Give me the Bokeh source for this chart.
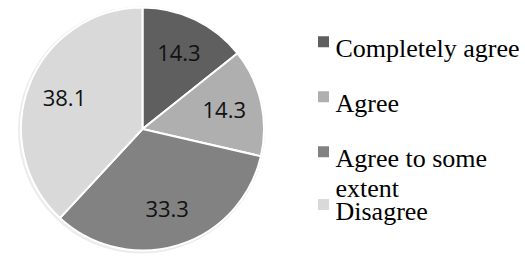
import math
from bokeh.plotting import figure
from bokeh.models import Range1d, ColumnDataSource
from bokeh.core.properties import value
from bokeh.embed import file_html
from bokeh.resources import INLINE

# ---- data ----
categories = ["Completely agree", "Agree", "Agree to some extent", "Disagree"]
values = [14.3, 14.3, 33.3, 38.1]
value_labels = ["14.3", "14.3", "33.3", "38.1"]
colors = ["#5f5f5f", "#afafaf", "#828282", "#d9d9d9"]
legend_lines = [["Completely agree"], ["Agree"], ["Agree to some", "extent"], ["Disagree"]]

# ---- layout (data units == pixels, y measured from bottom) ----
W, H = 525, 256
cx, cy, R = 142.0, H - 128.5, 121.5
label_r = 0.69 * R

total = sum(values)
starts, ends, lx, ly = [], [], [], []
acc = 0.0
for v in values:
    a0 = math.pi / 2 - 2 * math.pi * acc / total
    acc += v
    a1 = math.pi / 2 - 2 * math.pi * acc / total
    starts.append(a0)
    ends.append(a1)
    mid = (a0 + a1) / 2
    lx.append(cx + label_r * math.cos(mid))
    ly.append(cy + label_r * math.sin(mid))

p = figure(width=W, height=H, output_backend="svg", toolbar_location=None,
           x_range=Range1d(0, W), y_range=Range1d(0, H), min_border=0,
           outline_line_color=None)
p.xaxis.visible = False
p.yaxis.visible = False
p.grid.visible = False
p.background_fill_color = "white"
p.border_fill_color = "white"

# subtle shadow
p.circle(x=[cx - 1], y=[cy - 1], radius=R + 2, fill_color="#ececec", line_color=None)

src = ColumnDataSource(dict(start=starts, end=ends, color=colors))
p.wedge(x=cx, y=cy, radius=R, start_angle="start", end_angle="end",
        direction="clock", fill_color="color", line_color="white", line_width=2,
        source=src)

p.text(x=lx, y=ly, text=value_labels, text_font=value("Open Sans"),
       text_font_size="22px", text_align="center", text_baseline="middle",
       text_color="#111111")

# legend
serif = value("'Liberation Serif', 'Times New Roman', Times, serif")
leg_x_sq = 323
leg_x_txt = 335
leg_base = [H - 48.3, H - 103.3, H - 158.3, H - 211.0]
line_h = 30
for i, lines in enumerate(legend_lines):
    b = leg_base[i]
    p.scatter(x=[leg_x_sq], y=[b + 7], marker="square", size=11,
              fill_color=colors[i], line_color=None)
    for k, t in enumerate(lines):
        p.text(x=[leg_x_txt], y=[b - k * line_h], text=[t],
               text_font=serif, text_font_size="26px",
               text_align="left", text_baseline="alphabetic", text_color="black")

open("out.html", "w").write(file_html(p, INLINE))
